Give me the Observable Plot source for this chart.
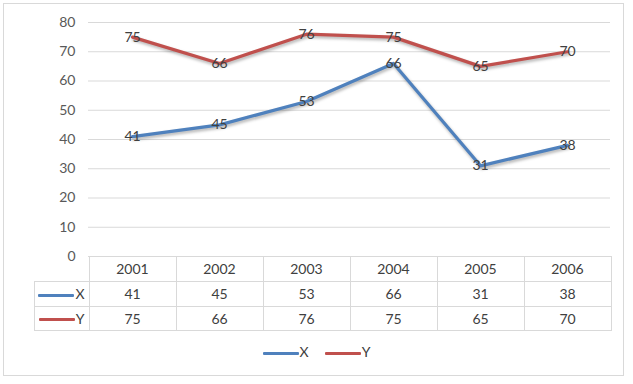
<!DOCTYPE html>
<html><head><meta charset="utf-8">
<script src="https://cdn.jsdelivr.net/npm/d3@7"></script>
<script src="https://cdn.jsdelivr.net/npm/@observablehq/plot@0.6"></script>
<style>
body{margin:0;background:#fff;}
#wrap{position:relative;width:633px;height:384px;font-family:Lato,"Open Sans",sans-serif;overflow:hidden;}
#frame{position:absolute;left:3px;top:3px;width:621px;height:373px;border:1px solid #D9D9D9;box-sizing:border-box;}
#chart{position:absolute;left:0;top:0;}
#tbl{position:absolute;border-collapse:collapse;table-layout:fixed;font-size:14px;color:#404040;}
#tbl td{border:1px solid #D9D9D9;text-align:center;padding:0;line-height:14px;}
.key{display:inline-block;width:36px;height:3px;vertical-align:middle;margin-right:1px;border-radius:1px;}
#legend{position:absolute;left:0;width:633px;top:344px;display:flex;justify-content:center;font-size:14px;color:#404040;line-height:16px;}
#legend span.item{margin:0 8px;}
</style></head><body>
<div id="wrap"><div id="frame"></div><div id="chart"></div></div>
<script>
const years = ["2001","2002","2003","2004","2005","2006"];
const xValues = [41,45,53,66,31,38];
const yValues = [75,66,76,75,65,70];
const seriesNames = ["X","Y"];
const seriesColors = ["#4F81BD","#C0504D"];
const yTicks = [0,10,20,30,40,50,60,70,80];

const seriesValues = [xValues, yValues];
const data = seriesNames.flatMap((s,k)=>years.map((yr,i)=>({year:yr, series:s, value:seriesValues[k][i]})));

const chart = Plot.plot({
  width:633, height:270,
  marginLeft:88, marginRight:23, marginTop:22, marginBottom:14,
  style:{fontFamily:'Lato,"Open Sans",sans-serif', fontSize:"14px", color:"#595959", background:"transparent"},
  x:{type:"point", domain:years, padding:0.5, axis:null},
  y:{domain:[0,80]},
  color:{domain:seriesNames, range:seriesColors},
  marks:[
    Plot.gridY(yTicks, {stroke:"#D9D9D9", strokeOpacity:1}),
    Plot.axisY(yTicks, {tickSize:0, tickPadding:13, fill:"#595959", fontSize:14, label:null}),
    Plot.line(data, {x:"year", y:"value", stroke:"series", strokeWidth:3.2, strokeLinejoin:"round"}),
    Plot.text(data, {x:"year", y:"value", text:"value", fill:"#404040", fontSize:14})
  ]
});
d3.select(chart).selectAll('g[aria-label="line"] path').style("filter","drop-shadow(1px 2px 1.5px rgba(0,0,0,0.3))");
document.getElementById("chart").appendChild(chart);

// data table aligned to the x scale
const xs = chart.scale("x");
const step = (xs.range[1]-xs.range[0]) / years.length;
const keyW = 55;
const left0 = xs.apply(years[0]) - step/2;
const y0 = chart.scale("y").apply(0);
const table = document.createElement("table");
table.id = "tbl";
table.style.left = (left0 - keyW) + "px";
table.style.top = y0 + "px";
table.style.width = (keyW + step*years.length) + "px";
let html = `<colgroup><col style="width:${keyW}px">` + years.map(()=>`<col style="width:${step}px">`).join("") + `</colgroup>`;
html += `<tr style="height:25px"><td style="border-top:hidden;border-left:hidden"></td>` + years.map(y=>`<td>${y}</td>`).join("") + `</tr>`;
seriesNames.forEach((s,k)=>{
  html += `<tr style="height:${k===0?25:24}px"><td><span class="key" style="background:${seriesColors[k]}"></span>${s}</td>` +
    seriesValues[k].map(v=>`<td>${v}</td>`).join("") + `</tr>`;
});
table.innerHTML = html;
document.getElementById("wrap").appendChild(table);

// legend
const legend = document.createElement("div");
legend.id = "legend";
legend.innerHTML = seriesNames.map((s,k)=>`<span class="item"><span class="key" style="background:${seriesColors[k]}"></span>${s}</span>`).join("");
document.getElementById("wrap").appendChild(legend);
</script>
</body></html>
